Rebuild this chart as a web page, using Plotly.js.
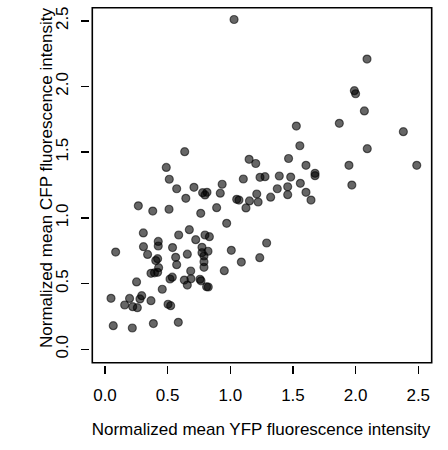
<!DOCTYPE html>
<html>
<head>
<meta charset="utf-8">
<script src="https://cdn.plot.ly/plotly-3.0.1.min.js"></script>
<style>
  html, body { margin: 0; padding: 0; background: #ffffff; }
  #chart { width: 448px; height: 450px; }
</style>
</head>
<body>
<div id="chart"></div>
<script>
// Normalized mean intensities per cell: YFP (x) against CFP (y)
const yfp = [
  1.030, 0.636, 0.489, 0.513, 0.572, 0.710, 0.935, 1.104, 1.150, 1.203,
  1.237, 1.277, 2.091, 1.990, 2.000, 2.070, 1.870, 1.527, 2.381, 1.555,
  2.093, 1.465, 1.604, 1.947, 2.488, 1.676, 1.676, 1.391, 1.482, 1.559,
  1.375, 1.458, 1.458, 1.604, 1.644, 1.970, 1.211, 1.222, 1.322, 1.290,
  1.235, 1.051, 1.069, 1.153, 1.125, 0.779, 0.814, 0.798, 0.920, 0.645,
  0.511, 0.764, 0.891, 0.971, 0.588, 0.673, 0.724, 0.798, 0.833, 0.266,
  0.381, 0.306, 0.425, 0.425, 0.307, 0.340, 0.405, 0.420, 0.428, 0.367,
  0.395, 0.420, 0.085, 0.539, 0.564, 0.572, 0.657, 0.774, 0.774, 0.790,
  0.822, 0.790, 0.790, 0.684, 0.633, 0.686, 0.657, 0.758, 0.766, 0.811,
  0.824, 0.952, 1.008, 1.088, 0.252, 0.457, 0.519, 0.537, 0.048, 0.157,
  0.196, 0.221, 0.258, 0.279, 0.293, 0.367, 0.503, 0.524, 0.066, 0.218,
  0.386, 0.585
];
const cfp = [
  2.510, 1.504, 1.384, 1.294, 1.222, 1.233, 1.256, 1.296, 1.446, 1.414,
  1.309, 1.314, 2.209, 1.968, 1.945, 1.814, 1.720, 1.699, 1.656, 1.549,
  1.527, 1.452, 1.400, 1.400, 1.400, 1.339, 1.321, 1.319, 1.311, 1.263,
  1.222, 1.237, 1.177, 1.195, 1.136, 1.250, 1.182, 1.121, 1.158, 0.809,
  0.697, 1.141, 1.136, 1.129, 1.076, 1.192, 1.195, 1.175, 1.188, 1.149,
  1.066, 1.035, 1.078, 0.959, 0.870, 0.910, 0.834, 0.870, 0.857, 1.092,
  1.052, 0.886, 0.821, 0.786, 0.781, 0.722, 0.675, 0.690, 0.621, 0.578,
  0.582, 0.586, 0.740, 0.774, 0.700, 0.644, 0.724, 0.776, 0.735, 0.710,
  0.746, 0.667, 0.624, 0.596, 0.527, 0.537, 0.489, 0.533, 0.521, 0.476,
  0.474, 0.598, 0.753, 0.664, 0.513, 0.457, 0.535, 0.549, 0.388, 0.337,
  0.387, 0.324, 0.317, 0.383, 0.408, 0.370, 0.343, 0.332, 0.180, 0.162,
  0.196, 0.205
];

const tickVals = [0, 0.5, 1, 1.5, 2, 2.5];
const tickText = ["0.0", "0.5", "1.0", "1.5", "2.0", "2.5"];

const xTitle = "Normalized mean YFP fluorescence intensity";
const yTitle = "Normalized mean CFP fluorescence intensity";

const font = { family: "Liberation Sans, Arial, Helvetica, sans-serif", size: 17, color: "#000000" };

const trace = {
  type: "scatter",
  mode: "markers",
  x: yfp,
  y: cfp,
  marker: {
    size: 8,
    color: "rgba(0,0,0,0.6)",
    line: { color: "rgba(0,0,0,0.55)", width: 1.2 }
  },
  hoverinfo: "x+y"
};

const axisCommon = {
  tickmode: "array",
  tickvals: tickVals,
  ticktext: tickText,
  ticks: "outside",
  ticklen: 8,
  tickwidth: 1.5,
  tickcolor: "#000000",
  showline: false,
  showgrid: false,
  zeroline: false,
  tickfont: font,
  automargin: false,
  fixedrange: true
};

const layout = {
  width: 448,
  height: 450,
  margin: { l: 90, r: 16, t: 8, b: 85 },
  paper_bgcolor: "#ffffff",
  plot_bgcolor: "#ffffff",
  showlegend: false,
  font: font,
  xaxis: Object.assign({}, axisCommon, {
    range: [-0.1197, 2.6097],
    ticklabelstandoff: 7,
    title: { text: xTitle, font: font, standoff: 18 }
  }),
  yaxis: Object.assign({}, axisCommon, {
    range: [-0.1195, 2.5974],
    tickangle: -90,
    ticklabelstandoff: 6
  }),
  // y-axis label, placed as a rotated annotation left of the tick labels
  annotations: [{
    text: yTitle,
    xref: "paper", yref: "paper",
    x: 0, y: 0.524,
    xanchor: "center", yanchor: "middle",
    xshift: -43,
    textangle: -90,
    showarrow: false,
    font: font
  }],
  // plot frame, set slightly inside the tick marks
  shapes: [{
    type: "rect",
    xref: "paper", yref: "paper",
    x0: 0.0067, x1: 0.9991, y0: 0.0064, y1: 1.0008,
    line: { color: "#000000", width: 1.6 },
    fillcolor: "rgba(0,0,0,0)",
    layer: "above"
  }]
};

Plotly.newPlot("chart", [trace], layout, { displayModeBar: false, staticPlot: true });
</script>
</body>
</html>
